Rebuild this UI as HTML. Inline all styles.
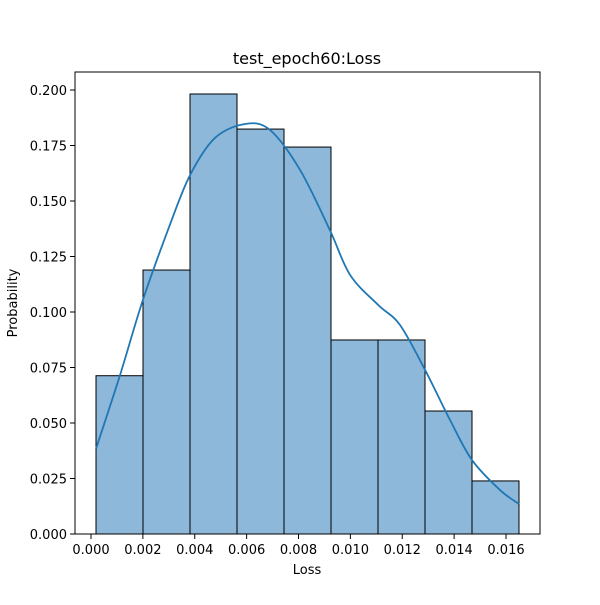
<!DOCTYPE html>
<html><head><meta charset="utf-8"><style>
body{margin:0;background:#fff}
svg text{font-family:"DejaVu Sans","Liberation Sans",sans-serif;fill:#000}
</style></head><body>
<svg id="c" width="600" height="600">
<rect width="600" height="600" fill="#fff"/>
<g id="bars"></g><g id="kde"></g><g id="axes"></g>
</svg>
<script>
const binStart = 0.000193;
const binWidth = 0.001812;
const probs = [0.0713, 0.1189, 0.1982, 0.1824, 0.1743, 0.0874, 0.0874, 0.0554, 0.0239];
const kdeX = [0.00019,0.00112,0.00200,0.00304,0.00382,0.00478,0.00594,0.00690,0.00806,0.00921,0.00999,0.01107,0.01191,0.01288,0.01384,0.01469,0.01577,0.01650];
const kdeY = [0.0383,0.0716,0.1054,0.1392,0.1617,0.1784,0.1847,0.1820,0.1640,0.1369,0.1167,0.1032,0.0942,0.0739,0.0514,0.0333,0.0198,0.0135];
const xTicks = [0,0.002,0.004,0.006,0.008,0.010,0.012,0.014,0.016];
const xTickLabels = ["0.000","0.002","0.004","0.006","0.008","0.010","0.012","0.014","0.016"];
const yTicks = [0,0.025,0.05,0.075,0.1,0.125,0.15,0.175,0.2];
const yTickLabels = ["0.000","0.025","0.050","0.075","0.100","0.125","0.150","0.175","0.200"];

const L=75,R=540,T=72,B=534;
const X=v=>91+v*25937.5;
const Y=v=>534-v*2220;
const NS="http://www.w3.org/2000/svg";
function mk(tag,attrs,parent){const e=document.createElementNS(NS,tag);for(const k in attrs)e.setAttribute(k,attrs[k]);parent.appendChild(e);return e;}
const bars=document.getElementById('bars'),kde=document.getElementById('kde'),ax=document.getElementById('axes');
probs.forEach((p,i)=>{
  const x0=X(binStart+i*binWidth),x1=X(binStart+(i+1)*binWidth);
  const r=mk('rect',{x:x0,y:Y(p),width:x1-x0,height:Y(0)-Y(p),fill:'#8db8da',stroke:'#000','stroke-width':1},bars);
  
  
});
const pts=kdeX.map((x,i)=>[X(x),Y(kdeY[i])]);
let d='M'+pts[0][0]+','+pts[0][1];
for(let i=0;i<pts.length-1;i++){
  const p0=pts[Math.max(0,i-1)],p1=pts[i],p2=pts[i+1],p3=pts[Math.min(pts.length-1,i+2)];
  d+=` C${p1[0]+(p2[0]-p0[0])/6},${p1[1]+(p2[1]-p0[1])/6} ${p2[0]-(p3[0]-p1[0])/6},${p2[1]-(p3[1]-p1[1])/6} ${p2[0]},${p2[1]}`;
}
const kp=mk('path',{d:d,fill:'none',stroke:'#1f77b4','stroke-width':1.8},kde);


const fr=mk('rect',{x:L,y:T,width:R-L,height:B-T,fill:'none',stroke:'#000','stroke-width':1},ax);


xTicks.forEach((v,i)=>{
  mk('line',{x1:X(v),x2:X(v),y1:B,y2:B+5,stroke:'#000'},ax);
  const t=mk('text',{x:X(v),y:B+20,'text-anchor':'middle','font-size':13},ax);
  t.textContent=xTickLabels[i];
  
  
});
yTicks.forEach((v,i)=>{
  mk('line',{x1:L-5,x2:L,y1:Y(v),y2:Y(v),stroke:'#000'},ax);
  const t=mk('text',{x:L-8,y:Y(v)+5,'text-anchor':'end','font-size':13},ax);
  t.textContent=yTickLabels[i];
  
  
});
let t=mk('text',{x:307,y:574,'text-anchor':'middle','font-size':13},ax);t.textContent='Loss';


t=mk('text',{x:17,y:303,'text-anchor':'middle','font-size':13,transform:'rotate(-90 17 303)'},ax);t.textContent='Probability';


t=mk('text',{x:307,y:64,'text-anchor':'middle','font-size':16},ax);t.textContent='test_epoch60:Loss';


</script>
</body></html>
